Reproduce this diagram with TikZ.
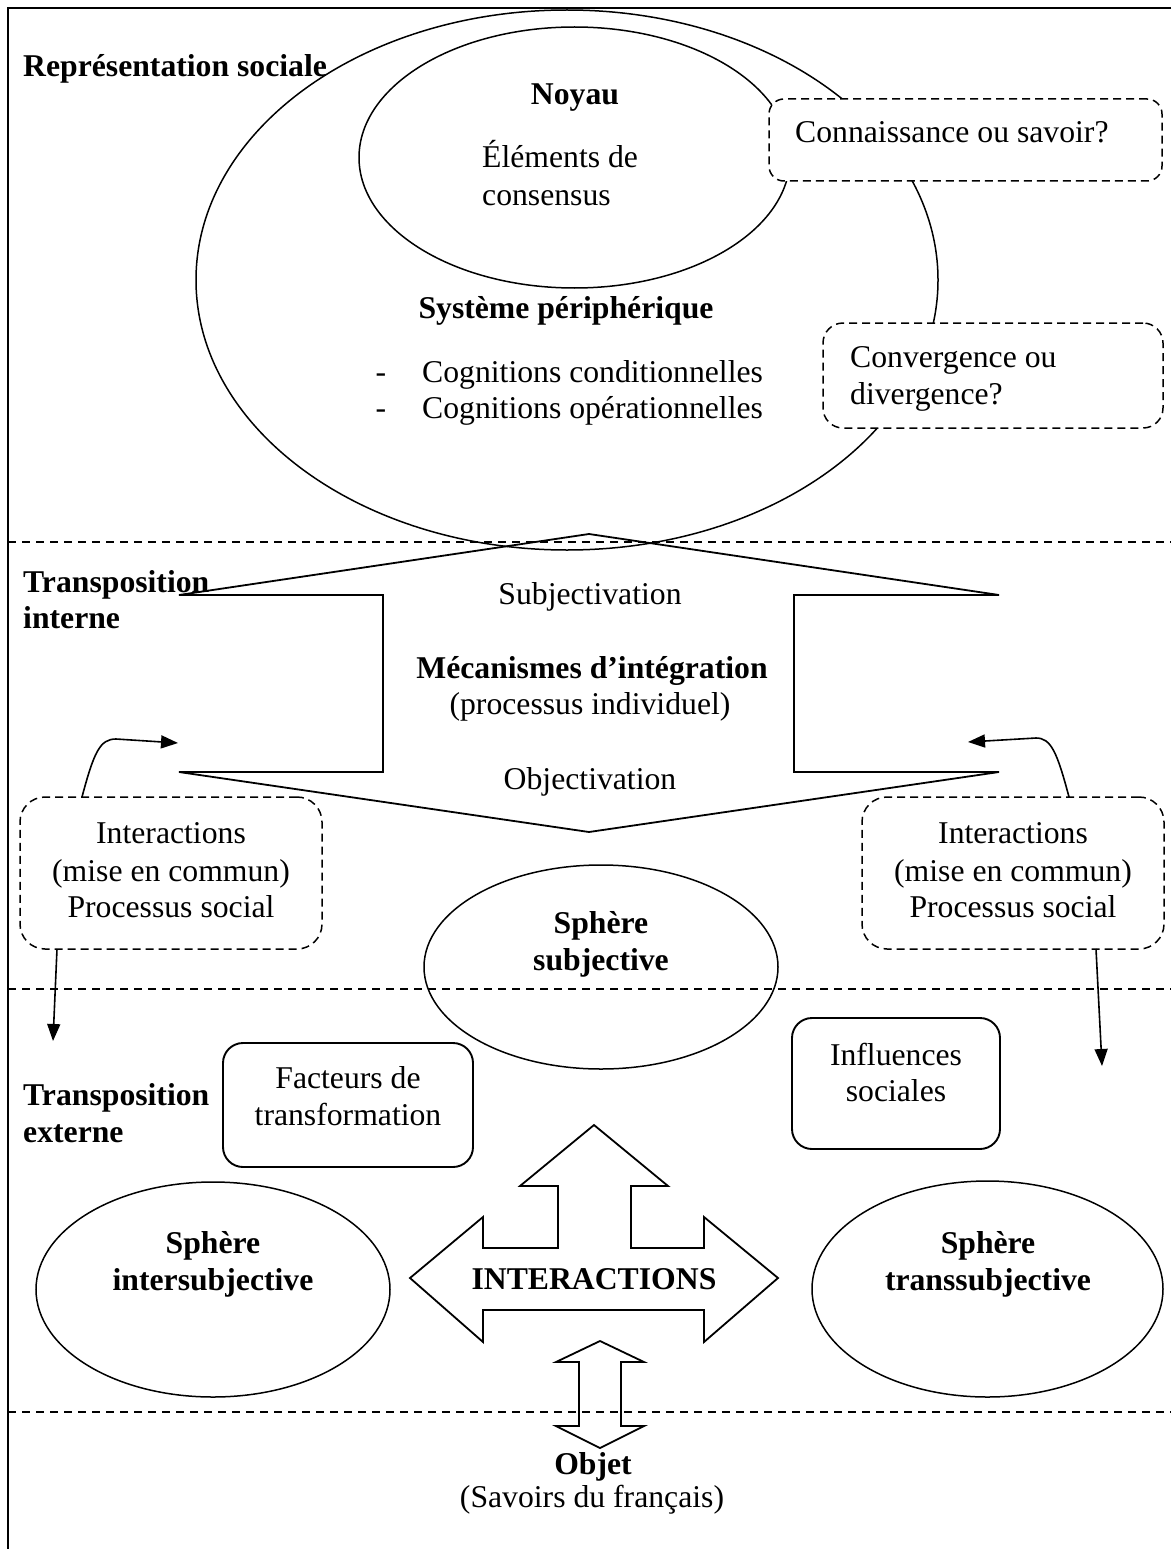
\documentclass[tikz,border=0pt]{standalone}
\usepackage{fontspec}
\setmainfont{Liberation Serif}
\usetikzlibrary{shapes.geometric,arrows.meta}
\begin{document}
\begin{tikzpicture}[x=1pt,y=-1pt,
  font=\fontsize{31.7pt}{37pt}\selectfont,
  lbl/.style={inner sep=0pt, anchor=base},
  lblw/.style={inner sep=0pt, anchor=base west},
  ell/.style={draw, ellipse, inner sep=0pt, line width=1.5pt},
  dbox/.style={draw, fill=white, inner sep=0pt, line width=1.5pt, dash pattern=on 8pt off 5pt},
  sbox/.style={draw, inner sep=0pt, line width=1.9pt, rounded corners=20pt},
  sepline/.style={line width=1.8pt, dash pattern=on 8pt off 6pt},
  blk/.style={line width=1.8pt, line join=miter},
  conn/.style={line width=1.6pt, -{Triangle[length=17pt,width=13pt]}}]
\useasboundingbox (0,0) rectangle (1171,1549);

% frame
\coordinate (ftl) at (8,8);
\coordinate (ftr) at (1171,8);
\coordinate (fbl) at (8,1549);
\draw[line width=2.4pt] (ftr) -- (ftl) -- (fbl);

% separators
\coordinate (s1a) at (8,542);  \coordinate (s1b) at (1171,542);
\coordinate (s2a) at (8,989);  \coordinate (s2b) at (1171,989);
\coordinate (s3a) at (8,1412); \coordinate (s3b) at (1171,1412);
\draw[sepline] (s1a) -- (s1b);
\draw[sepline] (s2a) -- (s2b);
\draw[sepline] (s3a) -- (s3b);

% ellipses
\node[ell, minimum width=742pt, minimum height=540pt] (rs) at (567,280) {};
\node[ell, minimum width=431pt, minimum height=261pt] (noyau) at (574.5,157.5) {};
\node[ell, minimum width=354pt, minimum height=204pt] (ssubj) at (601,967) {};
\node[ell, minimum width=354pt, minimum height=215pt] (sinter) at (213,1289.5) {};
\node[ell, minimum width=351pt, minimum height=216pt] (strans) at (987.5,1289) {};

% dashed boxes
\node[dbox, rounded corners=15pt, minimum width=393pt, minimum height=82pt] (cos) at (965.5,140) {};
\node[dbox, rounded corners=20pt, minimum width=340pt, minimum height=105pt] (cod) at (993,375.5) {};
\node[dbox, rounded corners=25pt, minimum width=302pt, minimum height=152pt] (intl) at (171,873) {};
\node[dbox, rounded corners=25pt, minimum width=302pt, minimum height=152pt] (intr) at (1013,873) {};

% solid boxes
\node[sbox, minimum width=250pt, minimum height=124pt] (fact) at (348,1105) {};
\node[sbox, minimum width=208pt, minimum height=131pt] (infl) at (896,1083.5) {};

% big vertical double arrow (integration)
\draw[blk] (589,534) -- (999,595) -- (794,595) -- (794,772) -- (999,772)
  -- (589,832) -- (179,772) -- (383,772) -- (383,595) -- (179,595) -- cycle;

% interactions arrow
\draw[blk] (594,1125) -- (668,1186) -- (631,1186) -- (631,1248) -- (704,1248)
  -- (704,1217) -- (778,1278) -- (704,1342) -- (704,1310) -- (483,1310)
  -- (483,1342) -- (410,1278) -- (483,1217) -- (483,1248) -- (558,1248)
  -- (558,1186) -- (520,1186) -- cycle;

% small up-down arrow
\draw[blk] (600,1341) -- (644,1362) -- (621,1362) -- (621,1426) -- (644,1426)
  -- (600,1448) -- (556,1426) -- (579,1426) -- (579,1362) -- (556,1362) -- cycle;

% connectors
\coordinate (lstart) at (82,797);
\coordinate (lend) at (178,743);
\coordinate (rstart) at (1069,797);
\coordinate (rend) at (968,742);
\coordinate (ldstart) at (57,949);
\coordinate (ldend) at (53,1041);
\coordinate (rdstart) at (1096,949);
\coordinate (rdend) at (1102,1066);
\draw[conn] (lstart) .. controls (94,752) and (100,739) .. (116,739) -- (lend);
\draw[conn] (rstart) .. controls (1057,752) and (1051,738) .. (1036,738) -- (rend);
\draw[conn] (ldstart) -- (ldend);
\draw[conn] (rdstart) -- (rdend);

% texts: top section
\node[lblw] (t-rs) at (23,77) {\textbf{Représentation sociale}};
\node[lbl] (t-noyau) at (575,105) {\textbf{Noyau}};
\node[lblw] (t-el1) at (482,168) {Éléments de};
\node[lblw] (t-el2) at (482,205) {consensus};
\node[lbl] (t-sp) at (566,318) {\textbf{Système périphérique}};
\node[lbl] (t-d1) at (381,382) {-};
\node[lbl] (t-d2) at (381,418) {-};
\node[lblw] (t-c1) at (422,382) {Cognitions conditionnelles};
\node[lblw] (t-c2) at (422,418) {Cognitions opérationnelles};
\node[lblw] (t-cos) at (795,143) {Connaissance ou savoir?};
\node[lblw] (t-cod1) at (850,367) {Convergence ou};
\node[lblw] (t-cod2) at (850,404) {divergence?};

% texts: transposition interne
\node[lblw] (t-ti1) at (23,592) {\textbf{Transposition}};
\node[lblw] (t-ti2) at (23,628) {\textbf{interne}};
\node[lbl] (t-subj) at (590,604) {Subjectivation};
\node[lbl] (t-meca) at (592,678) {\textbf{Mécanismes d’intégration}};
\node[lbl] (t-proc) at (590,714) {(processus individuel)};
\node[lbl] (t-obj) at (590,789) {Objectivation};
\node[lbl] (t-il1) at (171,843) {Interactions};
\node[lbl] (t-il2) at (171,881) {(mise en commun)};
\node[lbl] (t-il3) at (171,917) {Processus social};
\node[lbl] (t-ir1) at (1013,843) {Interactions};
\node[lbl] (t-ir2) at (1013,881) {(mise en commun)};
\node[lbl] (t-ir3) at (1013,917) {Processus social};
\node[lbl] (t-ss1) at (601,933) {\textbf{Sphère}};
\node[lbl] (t-ss2) at (601,970) {\textbf{subjective}};

% texts: transposition externe
\node[lblw] (t-te1) at (23,1105) {\textbf{Transposition}};
\node[lblw] (t-te2) at (23,1142) {\textbf{externe}};
\node[lbl] (t-f1) at (348,1088) {Facteurs de};
\node[lbl] (t-f2) at (348,1125) {transformation};
\node[lbl] (t-in1) at (896,1065) {Influences};
\node[lbl] (t-in2) at (896,1101) {sociales};
\node[lbl] (t-si1) at (213,1253) {\textbf{Sphère}};
\node[lbl] (t-si2) at (213,1290) {\textbf{intersubjective}};
\node[lbl] (t-st1) at (988,1253) {\textbf{Sphère}};
\node[lbl] (t-st2) at (988,1290) {\textbf{transsubjective}};
\node[lbl] (t-inter) at (594,1289) {\textbf{INTERACTIONS}};

% texts: objet
\node[lbl] (t-objet) at (593,1474) {\textbf{Objet}};
\node[lbl] (t-sav) at (592,1507) {(Savoirs du français)};
\end{tikzpicture}
\end{document}
